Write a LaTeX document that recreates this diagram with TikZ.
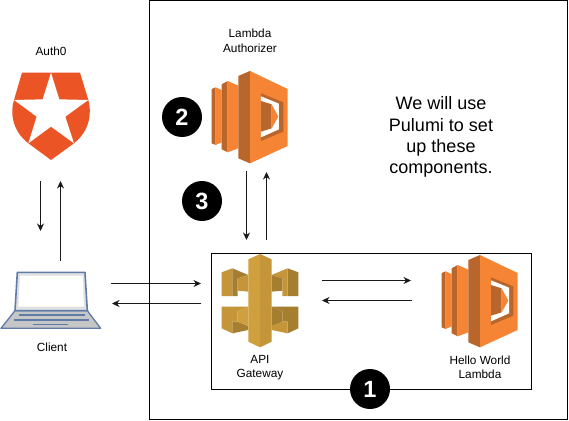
\documentclass[tikz,border=0pt]{standalone}
\usepackage{fontspec}
\setmainfont{Liberation Sans}
\usetikzlibrary{arrows.meta}
\definecolor{lamL}{HTML}{F58534}
\definecolor{lamD}{HTML}{B8662B}
\definecolor{gwL}{HTML}{D0A03E}
\definecolor{gwM}{HTML}{C49539}
\definecolor{gwD}{HTML}{A67E30}
\definecolor{authO}{HTML}{EB5424}
\definecolor{lapS}{HTML}{5F7BA8}
\tikzset{
  frame/.style={draw=black,line width=1pt,fill=none},
  conn/.style={draw=black!90,line width=1pt,-{Stealth[length=7.5pt,width=7pt]}},
  badge/.style={circle,fill=black,text=white,minimum size=40pt,inner sep=0pt,font=\fontsize{23.5}{25}\selectfont\bfseries},
  lbl/.style={align=center,text=black,inner sep=0pt,font=\fontsize{11.8}{14.5}\selectfont},
  note/.style={align=center,text=black,inner sep=0pt,font=\fontsize{18}{21.3}\selectfont},
  icon/.style={x=0.3333pt,y=-0.3333pt}
}
\newcommand{\lambdaicon}[2]{%
\begin{scope}[shift={(#1,#2)},icon]
  \fill[lamD] (20,72)--(32,67)--(32,240)--(20,235)--cycle;
  \fill[lamL] (32,67)--(50,75)--(50,232)--(32,240)--cycle;
  \fill[lamD] (50,58)--(68,48)--(68,262)--(50,253)--cycle;
  \fill[lamL] (68,48)--(100,62)--(100,250)--(68,262)--cycle;
  \fill[lamD] (100,33)--(135,18)--(135,295)--(100,280)--cycle;
  \fill[lamL] (135,18)--(248,72)--(248,243)--(135,295)--cycle;
  \fill[lamD] (168,85)--(235,112)--(235,200)--(168,228)--cycle;
  \fill[white] (168,94)--(222,116)--(222,193)--(168,217)--cycle;
  \fill[lamD] (168,108)--(200,118)--(200,190)--(168,200)--cycle;
  \fill[lamL] (200,118)--(220,155)--(200,190)--cycle;
\end{scope}}
\begin{document}
\begin{tikzpicture}[x=1pt,y=-1pt]
\useasboundingbox (0,0) rectangle (569,420);
\fill[white] (0,0) rectangle (569,420);
% frames
\draw[frame] (149.5,0.5) rectangle (567.5,419.5);
\draw[frame] (211.5,253.5) rectangle (531.5,389.5);
% Auth0 shield
\begin{scope}[icon]
  \fill[authO] (66,218)--(240,218)--(265,300) .. controls (275,335) and (272,390) .. (222,430)--(153,480)--(85,430) .. controls (34,390) and (31,335) .. (42,300)--cycle;
  \fill[white] (153,218)--(178,298)--(265,300)--(196,350)--(222,430)--(153,380)--(85,430)--(110,350)--(42,300)--(128,298)--cycle;
\end{scope}
% Lambdas
\lambdaicon{205}{65}
\lambdaicon{435}{249}
% API Gateway
\begin{scope}[shift={(215,250)},icon]
  \fill[gwM] (20,67)--(52,55)--(52,138)--(20,138)--cycle;
  \fill[gwD] (52,55)--(100,75)--(68,85)--(68,138)--(52,138)--cycle;
  \fill[gwM] (68,85)--(100,75)--(100,125)--(68,122)--cycle;
  \fill[gwD] (250,67)--(218,55)--(218,138)--(250,138)--cycle;
  \fill[gwM] (218,55)--(170,75)--(202,85)--(202,138)--(218,138)--cycle;
  \fill[gwD] (202,85)--(170,75)--(170,125)--(202,122)--cycle;
  \fill[gwM] (20,170)--(100,170)--(68,183)--(68,215)--(52,215)--(52,250)--(20,235)--cycle;
  \fill[gwD] (52,250)--(52,215)--(68,215)--(100,228)--(100,240)--cycle;
  \fill[gwL] (68,183)--(100,170)--(100,228)--(68,215)--cycle;
  \fill[gwD] (250,170)--(170,170)--(202,183)--(202,215)--(218,215)--(218,250)--(250,235)--cycle;
  \fill[gwM] (218,250)--(218,215)--(202,215)--(170,228)--(170,240)--cycle;
  \fill[gwD] (202,183)--(170,170)--(170,228)--(202,215)--cycle;
  \fill[gwL] (100,28)--(135,12)--(135,292)--(100,275)--cycle;
  \fill[gwM] (135,12)--(170,28)--(170,275)--(135,292)--cycle;
\end{scope}
% Laptop
\begin{scope}[shift={(0,265)},icon]
  \fill[lightgray!90,draw=lapS,line width=1.3pt,line join=round] (45,137)--(262,137)--(302,190)--(3,190)--cycle;
  \fill[black!12,draw=lapS,line width=1.6pt,line join=round] (52,22)--(255,22)--(262,137)--(45,137)--cycle;
  \fill[white] (60,32)--(248,32)--(252,125)--(55,125)--cycle;
  \draw[lapS,line width=1.2pt] (57,150)--(255,150);
  \draw[lapS,line width=1.2pt] (42,165)--(268,165);
  \draw[lapS,line width=1.2pt] (100,178)--(205,178);
\end{scope}
% Labels
\node[lbl] (auth) at (51,51) {Auth0};
\node[lbl] (authz) at (250,41) {Lambda\\Authorizer};
\node[lbl] (client) at (52,347) {Client};
\node[lbl] (api) at (260,367.5) {API\\Gateway};
\node[lbl] (hello) at (480,367.5) {Hello World\\Lambda};
\node[note] (txt) at (441,137) {We will use\\Pulumi to set\\up these\\components.};
% Badges
\node[badge] (b2) at (182,117) {2};
\node[badge] (b3) at (202,201) {3};
\node[badge] (b1) at (370,389) {1};
% Connector end points
\coordinate (a1) at (40.5,181); \coordinate (a2) at (40.5,231);
\coordinate (b1s) at (60.5,261); \coordinate (b1e) at (60.5,181);
\coordinate (c1) at (111,283.5); \coordinate (c2) at (201,283.5);
\coordinate (d1) at (201,303.5); \coordinate (d2) at (112,303.5);
\coordinate (e1) at (246.5,171); \coordinate (e2) at (246.5,240);
\coordinate (f1) at (266.5,240); \coordinate (f2) at (266.5,172);
\coordinate (g1) at (322,280.5); \coordinate (g2) at (411,280.5);
\coordinate (h1) at (412,300.5); \coordinate (h2) at (322,300.5);
\draw[conn] (a1)--(a2);
\draw[conn] (b1s)--(b1e);
\draw[conn] (c1)--(c2);
\draw[conn] (d1)--(d2);
\draw[conn] (e1)--(e2);
\draw[conn] (f1)--(f2);
\draw[conn] (g1)--(g2);
\draw[conn] (h1)--(h2);
\end{tikzpicture}
\end{document}
